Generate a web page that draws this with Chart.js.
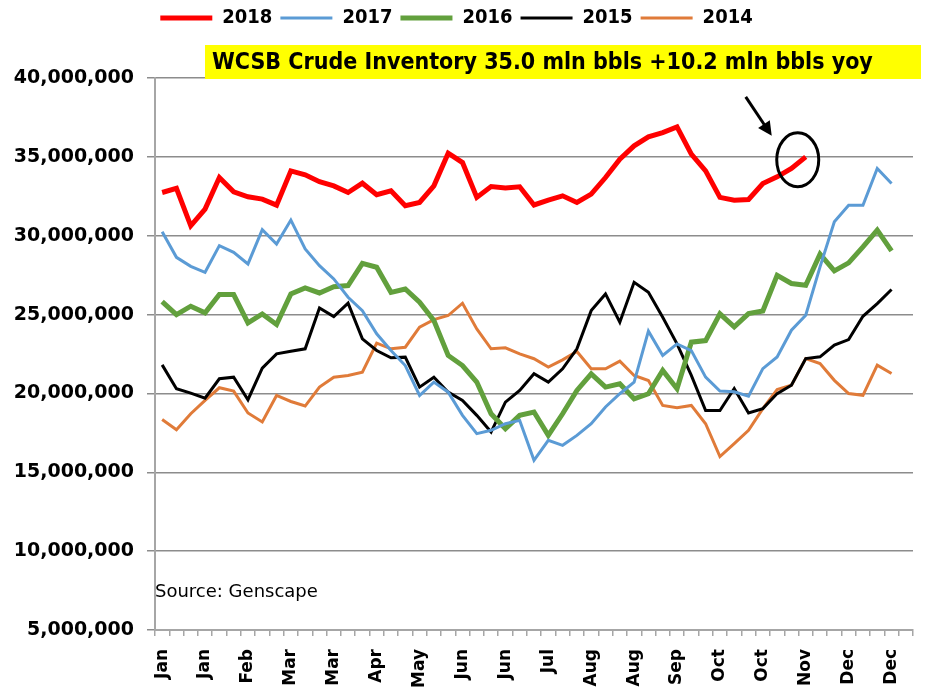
<!DOCTYPE html>
<html>
<head>
<meta charset="utf-8">
<script src="https://cdn.jsdelivr.net/npm/chart.js@4.4.1/dist/chart.umd.min.js"></script>
<style>
  html, body { margin: 0; padding: 0; background: #fff; }
  #wrap { width: 949px; height: 700px; position: relative; }
</style>
</head>
<body>
<div id="wrap"><canvas id="myChart"></canvas></div>
<script>
// weekly categories (53 weeks), a label is shown on every 3rd week
const weekLabels = ['Jan','Jan','Jan','Jan','Feb','Feb','Feb','Feb','Mar','Mar','Mar','Mar','Mar',
    'Apr','Apr','Apr','Apr','May','May','May','May','Jun','Jun','Jun','Jun','Jun',
    'Jul','Jul','Jul','Jul','Aug','Aug','Aug','Aug','Aug','Sep','Sep','Sep','Sep',
    'Oct','Oct','Oct','Oct','Nov','Nov','Nov','Nov','Nov','Dec','Dec','Dec','Dec','Dec'];

const years = ['2018', '2017', '2016', '2015', '2014'];

const inv2018 = [32740000, 33000000, 30630000, 31690000, 33690000, 32780000, 32470000, 32320000, 31940000, 34110000,
    33860000, 33420000, 33160000, 32740000, 33330000, 32600000, 32850000, 31900000, 32110000, 33160000,
    35230000, 34640000, 32430000, 33120000, 33020000, 33100000, 31950000, 32260000, 32530000, 32110000,
    32640000, 33690000, 34850000, 35700000, 36270000, 36540000, 36900000, 35170000, 34110000, 32430000,
    32250000, 32300000, 33310000, 33730000, 34260000, 35000000];

const inv2017 = [30250000, 28630000, 28060000, 27680000, 29370000, 28950000, 28210000, 30380000, 29470000, 30990000,
    29160000, 28100000, 27260000, 26100000, 25250000, 23780000, 22720000, 21770000, 19870000, 20720000,
    20080000, 18610000, 17450000, 17660000, 18080000, 18290000, 15760000, 17030000, 16710000, 17340000,
    18080000, 19140000, 19980000, 20720000, 23950000, 22410000, 23140000, 22720000, 21030000, 20150000,
    20100000, 19820000, 21570000, 22310000, 24010000, 24960000, 28020000, 30880000, 31930000, 31930000,
    34260000, 33310000];

const inv2016 = [25820000, 25000000, 25530000, 25110000, 26270000, 26270000, 24470000, 25040000, 24370000, 26310000,
    26690000, 26370000, 26770000, 26840000, 28250000, 28000000, 26410000, 26620000, 25780000, 24620000,
    22410000, 21770000, 20720000, 18710000, 17760000, 18610000, 18820000, 17340000, 18710000, 20190000,
    21240000, 20400000, 20610000, 19660000, 19980000, 21460000, 20300000, 23250000, 23350000, 25050000,
    24220000, 25060000, 25230000, 27490000, 26970000, 26860000, 28830000, 27770000, 28280000, 29290000,
    30350000, 29040000];

const inv2015 = [21810000, 20300000, 20020000, 19700000, 20930000, 21030000, 19600000, 21600000, 22510000, 22680000,
    22830000, 25420000, 24870000, 25720000, 23460000, 22720000, 22260000, 22300000, 20400000, 21030000,
    20080000, 19560000, 18610000, 17550000, 19450000, 20190000, 21250000, 20720000, 21560000, 22830000,
    25250000, 26310000, 24510000, 27050000, 26410000, 24830000, 23140000, 21140000, 18920000, 18920000,
    20310000, 18760000, 19040000, 19990000, 20520000, 22210000, 22320000, 23060000, 23410000, 24890000,
    25700000, 26590000];

const inv2014 = [18350000, 17700000, 18710000, 19560000, 20360000, 20150000, 18760000, 18190000, 19870000, 19490000,
    19200000, 20400000, 21030000, 21140000, 21350000, 23190000, 22830000, 22930000, 24200000, 24680000,
    24940000, 25720000, 24090000, 22830000, 22890000, 22510000, 22200000, 21670000, 22130000, 22660000,
    21560000, 21560000, 22050000, 21140000, 20820000, 19240000, 19090000, 19240000, 18080000, 16000000,
    16820000, 17660000, 19040000, 20240000, 20520000, 22210000, 21890000, 20830000, 19990000, 19880000,
    21790000, 21260000];

const yMin = 5000000, yMax = 40000000, yStep = 5000000;

const headline = 'WCSB Crude Inventory 35.0 mln bbls +10.2 mln bbls yoy';
const sourceText = 'Source: Genscape';

const seriesData = [inv2018, inv2017, inv2016, inv2015, inv2014];
const seriesColors = ['#ff0000', '#5b9bd5', '#62a03d', '#000000', '#e07b39'];
const seriesWidths = [5, 3, 5, 3, 3];

const condensed = "'DejaVu Sans Condensed', 'DejaVu Sans', sans-serif";

// empty box between legend and plot so the plot starts lower
const spacer = {
    id: 'spacer',
    beforeInit(chart) {
        Chart.layouts.addBox(chart, {
            position: 'top', weight: 0, fullSize: true, options: {},
            isHorizontal() { return true; },
            getPadding() { return { top: 0, left: 0, right: 0, bottom: 0 }; },
            update(w, h) { this.width = w; this.height = 40; },
            draw() {}
        });
    }
};

const annotations = {
    id: 'annotations',
    afterDraw(chart) {
        const c = chart.ctx;
        const xs = chart.scales.x, ys = chart.scales.y;
        c.save();
        // yellow headline box
        c.fillStyle = '#ffff00';
        c.fillRect(205, 45, 716, 34);
        c.fillStyle = '#000';
        c.font = 'bold 23px ' + condensed;
        c.textBaseline = 'middle';
        c.fillText(headline, 212, 63, 704);

        // source note
        c.font = '18px "DejaVu Sans", sans-serif';
        c.fillText(sourceText, 155, 592);

        // circle and arrow at last 2018 point
        const last = inv2018.length - 1;
        const px = xs.getPixelForValue(last), py = ys.getPixelForValue(inv2018[last]);
        c.strokeStyle = '#000';
        c.lineWidth = 3;
        c.beginPath();
        c.ellipse(px - 8, py + 3, 21, 27, 0, 0, Math.PI * 2);
        c.stroke();

        const tx = px - 34, ty = py - 21;
        const fx = px - 60, fy = py - 60;
        const ang = Math.atan2(ty - fy, tx - fx);
        c.beginPath();
        c.moveTo(fx, fy);
        c.lineTo(tx - 10 * Math.cos(ang), ty - 10 * Math.sin(ang));
        c.stroke();
        c.beginPath();
        c.moveTo(tx, ty);
        c.lineTo(tx - 14 * Math.cos(ang) + 7 * Math.sin(ang), ty - 14 * Math.sin(ang) - 7 * Math.cos(ang));
        c.lineTo(tx - 14 * Math.cos(ang) - 7 * Math.sin(ang), ty - 14 * Math.sin(ang) + 7 * Math.cos(ang));
        c.closePath();
        c.fill();
        c.restore();
    }
};

const ctx = document.getElementById('myChart');

new Chart(ctx, {
    type: 'line',
    data: {
        labels: weekLabels,
        datasets: years.map((yr, i) => ({
            label: yr,
            data: seriesData[i],
            borderColor: seriesColors[i],
            backgroundColor: seriesColors[i],
            borderWidth: seriesWidths[i],
            pointRadius: 0,
            tension: 0,
            fill: false
        }))
    },
    options: {
        responsive: true,
        maintainAspectRatio: false,
        animation: false,
        layout: { padding: { left: 0, right: 36, top: 0, bottom: 0 } },
        scales: {
            x: {
                offset: true,
                afterFit: (s) => { s.height = 70; },
                border: { color: '#a6a6a6', width: 2 },
                grid: { offset: true, drawOnChartArea: false, drawTicks: true, tickLength: 6, color: '#a6a6a6', lineWidth: 1.5 },
                ticks: {
                    autoSkip: false,
                    minRotation: 90,
                    maxRotation: 90,
                    padding: 13,
                    color: '#000',
                    font: { family: 'DejaVu Sans', weight: 'bold', size: 17 },
                    callback: function (value, index) {
                        return index % 3 === 0 ? this.getLabelForValue(value) : '';
                    }
                }
            },
            y: {
                min: yMin,
                max: yMax,
                afterFit: (s) => { s.width = 155; },
                border: { color: '#a6a6a6', width: 2 },
                grid: { color: '#8c8c8c', lineWidth: 1.5, tickLength: 8 },
                ticks: {
                    stepSize: yStep,
                    padding: 13,
                    color: '#000',
                    font: { family: 'DejaVu Sans', weight: 'bold', size: 19 },
                    callback: (v) => v.toLocaleString('en-US')
                }
            }
        },
        plugins: {
            legend: {
                display: true,
                position: 'top',
                labels: {
                    usePointStyle: true,
                    pointStyle: 'line',
                    pointStyleWidth: 52,
                    padding: 8,
                    color: '#000',
                    font: { family: condensed, weight: 'bold', size: 20 }
                }
            },
            tooltip: { enabled: false }
        }
    },
    plugins: [spacer, annotations]
});
</script>
</body>
</html>
